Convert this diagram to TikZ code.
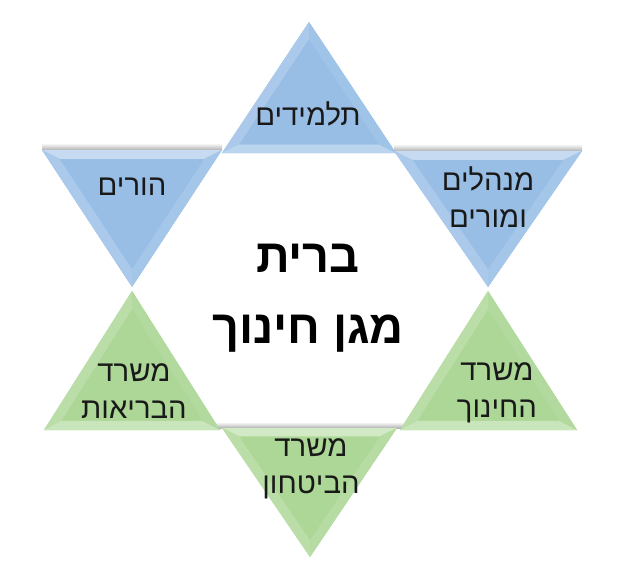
\documentclass[tikz,border=0pt]{standalone}
\usepackage{fontspec}
\newfontfamily\hebfont[Script=Hebrew]{Liberation Sans}
\TeXXeTstate=1
\usepackage{tikz}
\usetikzlibrary{calc}

\definecolor{starblue}{RGB}{152,190,230}
\definecolor{stargreen}{RGB}{172,215,150}

\tikzset{
  tag/.style={align=center, font=\hebfont\fontsize{25}{32}\selectfont, text=black!90},
  title/.style={align=center, font=\hebfont\bfseries\fontsize{40}{61}\selectfont},
  shadowstrip/.style={top color=white, bottom color=black!30}
}

% one bevelled triangle: #1,#2,#3 corners, #4 colour, #5 #6 #7 tints of the facets
\newcommand{\bevtri}[7]{%
  \coordinate (g) at (barycentric cs:#1=1,#2=1,#3=1);
  \coordinate (i1) at ($(g)!0.8!(#1)$);
  \coordinate (i2) at ($(g)!0.8!(#2)$);
  \coordinate (i3) at ($(g)!0.8!(#3)$);
  \fill[#4] (#1)--(#2)--(#3)--cycle;
  \fill[#4!#5!white] (#1)--(#2)--(i2)--(i1)--cycle;
  \fill[#4!#6!white] (#2)--(#3)--(i3)--(i2)--cycle;
  \fill[#4!#7!white] (#3)--(#1)--(i1)--(i3)--cycle;
  \fill[#4] (i1)--(i2)--(i3)--cycle;
}

\begin{document}
\begin{tikzpicture}[x=0.03cm,y=-0.03cm]
\useasboundingbox (0,0) rectangle (617,581);

% corners of the six triangles
\coordinate (t1) at (309,22);  \coordinate (t2) at (222,153); \coordinate (t3) at (396,153);
\coordinate (l1) at (42,150);  \coordinate (l2) at (222,150); \coordinate (l3) at (132,287);
\coordinate (r1) at (394,151); \coordinate (r2) at (582,151); \coordinate (r3) at (488,287);
\coordinate (a1) at (132,291); \coordinate (a2) at (44,430);  \coordinate (a3) at (220,430);
\coordinate (b1) at (488,291); \coordinate (b2) at (400,430); \coordinate (b3) at (577,430);
\coordinate (d1) at (222,428); \coordinate (d2) at (397,428); \coordinate (d3) at (310,557);

% grey edges above the downward triangles
\fill[shadowstrip] (42,143) rectangle (222,150);
\fill[shadowstrip] (394,144) rectangle (582,151);
\fill[shadowstrip] (200,422) rectangle (420,428);

\bevtri{l1}{l2}{l3}{starblue}{55}{88}{82}
\bevtri{r1}{r2}{r3}{starblue}{55}{88}{82}
\bevtri{d1}{d2}{d3}{stargreen}{55}{88}{82}
\bevtri{t1}{t2}{t3}{starblue}{82}{65}{92}
\bevtri{a1}{a2}{a3}{stargreen}{82}{65}{92}
\bevtri{b1}{b2}{b3}{stargreen}{82}{65}{92}

\node[tag] (pupils) at (308,114) {\beginR תלמידים\endR};
\node[tag] (parents) at (132,187) {\beginR הורים\endR};
\node[tag] (staff) at (488,197) {\beginR מנהלים\endR\\\beginR ומורים\endR};
\node[tag] (health) at (134,391) {\beginR משרד\endR\\\beginR הבריאות\endR};
\node[tag] (education) at (497,393) {\beginR משרד\endR\\\beginR החינוך\endR};
\node[tag] (defence) at (311,469) {\beginR משרד\endR\\\beginR הביטחון\endR};

\node[title] (pact) at (308,298) {\beginR ברית\endR\\\beginR מגן חינוך\endR};

\end{tikzpicture}
\end{document}
